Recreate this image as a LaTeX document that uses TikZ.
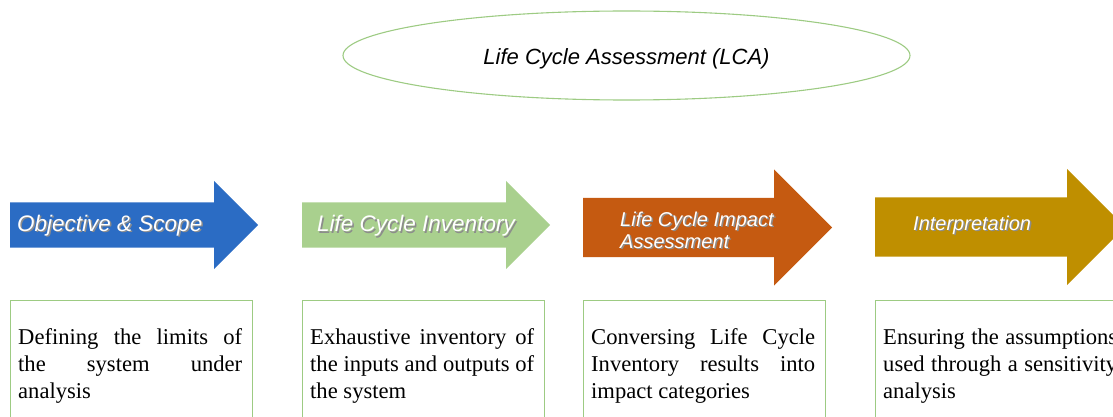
\documentclass[tikz,border=0pt]{standalone}
\usepackage{fontspec}
\setmainfont{Liberation Serif}
\setsansfont{Liberation Sans}
\usetikzlibrary{shapes.arrows, shapes.geometric, positioning}

\definecolor{lcablue}{HTML}{2B6CC4}
\definecolor{lcagreen}{HTML}{A9D08E}
\definecolor{lcaorange}{HTML}{C55A11}
\definecolor{lcagold}{HTML}{BF8F00}
\definecolor{lcaline}{HTML}{9DCB83}

\newcommand{\shadowed}[1]{\rlap{\kern1.5pt\raisebox{-1.5pt}{\color{black!45}#1}}#1}

\begin{document}
\begin{tikzpicture}[x=1pt, y=-1pt, font=\sffamily\itshape]
  \tikzstyle{stagearrow}=[single arrow, single arrow tip angle=90, draw=none, inner xsep=0pt, text height=0pt, text depth=0pt, anchor=tail]
  \tikzstyle{smallarrow}=[stagearrow, inner ysep=22.5pt, single arrow head extend=21.5pt, minimum height=248pt]
  \tikzstyle{bigarrow}=[stagearrow, inner ysep=29.5pt, single arrow head extend=28.5pt, minimum height=249pt]
  \tikzstyle{stagelabel}=[text=white, inner sep=0pt]
  \tikzstyle{stagebox}=[draw=lcaline, line width=1.4pt, minimum width=242pt, minimum height=150pt, anchor=north west, inner sep=0pt]
  \tikzstyle{boxtext}=[font=\rmfamily\upshape\fontsize{22.6}{27}\selectfont, text width=224pt, align=justify, inner sep=0pt]

  \clip (0,0) rectangle (1113,417);

  \node[ellipse, draw=lcaline, line width=1.1pt, minimum width=567pt, minimum height=89pt, text height=19pt, text depth=0pt, font=\sffamily\itshape\fontsize{22}{26}\selectfont] (lca) at (626.5,55.5) {Life Cycle Assessment (LCA)};

  % stages
  \node[smallarrow, fill=lcablue] (a1) at (10,225) {};
  \node[smallarrow, fill=lcagreen] (a2) at (302,225) {};
  \node[bigarrow, fill=lcaorange] (a3) at (583,227.5) {};
  \node[bigarrow, fill=lcagold, minimum height=250pt] (a4) at (875,227) {};

  \node[stagelabel, anchor=base west, font=\sffamily\itshape\fontsize{22.5}{26}\selectfont] (l1) at ([shift={(7,6)}]a1.tail) {\shadowed{Objective \& Scope}};
  \node[stagelabel, anchor=base west, font=\sffamily\itshape\fontsize{22.5}{26}\selectfont] (l2) at ([shift={(15,6.5)}]a2.tail) {\shadowed{Life Cycle Inventory}};
  \node[stagelabel, anchor=north west, align=left, font=\sffamily\itshape\fontsize{20}{22}\selectfont] (l3) at ([shift={(37,-16.1)}]a3.tail) {\shadowed{Life Cycle Impact}\\\shadowed{Assessment}};
  \node[stagelabel, anchor=base west, font=\sffamily\itshape\fontsize{20}{22}\selectfont] (l4) at ([shift={(38,3)}]a4.tail) {\shadowed{Interpretation}};

  % descriptions
  \node[stagebox] (b1) at (10,300) {};
  \node[stagebox] (b2) at (302,300) {};
  \node[stagebox] (b3) at (583,300) {};
  \node[stagebox] (b4) at (875,300) {};

  \node[boxtext, below right=28.4pt and 8pt of b1.north west] (t1) {Defining the limits of\linebreak the system under\linebreak analysis};
  \node[boxtext, below right=28.4pt and 8pt of b2.north west] (t2) {Exhaustive inventory of\linebreak the inputs and outputs of\linebreak the system};
  \node[boxtext, below right=28.4pt and 8pt of b3.north west] (t3) {Conversing Life Cycle\linebreak Inventory results into\linebreak impact categories};
  \node[boxtext, text width=234pt, below right=28.4pt and 8pt of b4.north west] (t4) {Ensuring the assumptions\linebreak used through a sensitivity\linebreak analysis};
\end{tikzpicture}
\end{document}
